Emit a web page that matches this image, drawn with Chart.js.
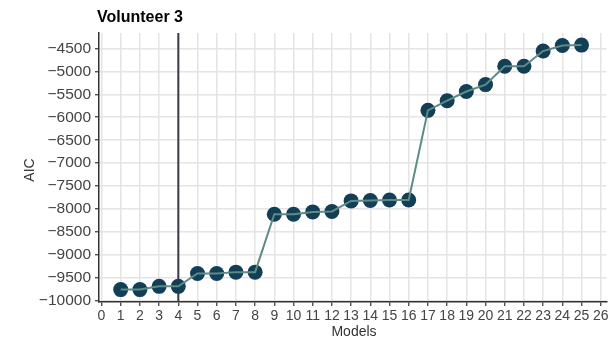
<!DOCTYPE html>
<html>
<head>
<meta charset="utf-8">
<script src="https://cdn.jsdelivr.net/npm/chart.js@4/dist/chart.umd.min.js"></script>
<style>
  html, body { margin: 0; padding: 0; background: #ffffff; }
  #wrap { width: 614px; height: 340px; }
</style>
</head>
<body>
<div id="wrap"><canvas id="c" width="614" height="340"></canvas></div>
<script>
// Model index and its AIC value
const models = [1, 2, 3, 4, 5, 6, 7, 8, 9, 10, 11, 12, 13, 14, 15, 16, 17, 18, 19, 20, 21, 22, 23, 24, 25];
const aic = [-9750, -9750, -9680, -9680, -9400, -9400, -9370, -9370, -8110, -8110, -8060, -8050,
             -7820, -7810, -7800, -7800, -5850, -5640, -5440, -5290, -4890, -4890, -4560, -4440, -4430];
const xTicks = [0,1,2,3,4,5,6,7,8,9,10,11,12,13,14,15,16,17,18,19,20,21,22,23,24,25,26];
const yTicks = [-10000,-9500,-9000,-8500,-8000,-7500,-7000,-6500,-6000,-5500,-5000,-4500];
const selectedModel = 4;
const titleText = 'Volunteer 3';
const xTitle = 'Models';
const yTitle = 'AIC';

const points = models.map((m, i) => ({ x: m, y: aic[i] }));

const textColor = '#444444';
const axisColor = '#333333';
const gridColor = '#e4e4e4';

// Vertical reference line at the selected model, plus title and axis titles
const decorations = {
  id: 'decorations',
  beforeDatasetsDraw(chart) {
    const { ctx, chartArea, scales } = chart;
    const px = scales.x.getPixelForValue(selectedModel);
    ctx.save();
    ctx.strokeStyle = '#3b3b4a';
    ctx.lineWidth = 2;
    ctx.beginPath();
    ctx.moveTo(px, chartArea.top);
    ctx.lineTo(px, chartArea.bottom);
    ctx.stroke();
    ctx.restore();
  },
  afterDraw(chart) {
    const { ctx } = chart;
    ctx.save();
    ctx.fillStyle = '#000000';
    ctx.font = 'bold 16px "Liberation Sans", Arial, sans-serif';
    ctx.textBaseline = 'alphabetic';
    ctx.textAlign = 'left';
    ctx.fillText(titleText, 97, 22);

    ctx.fillStyle = '#333333';
    ctx.font = '14px "Liberation Sans", Arial, sans-serif';
    ctx.textAlign = 'center';
    ctx.textBaseline = 'middle';
    ctx.fillText(xTitle, 354, 332);

    ctx.translate(30, 170);
    ctx.rotate(-Math.PI / 2);
    ctx.fillText(yTitle, 0, 0);
    ctx.restore();
  }
};

new Chart(document.getElementById('c'), {
  type: 'scatter',
  data: {
    datasets: [
      {
        label: 'AIC points',
        data: points,
        showLine: false,
        pointRadius: 7.5,
        pointBackgroundColor: '#133f56',
        pointBorderColor: '#133f56',
        pointBorderWidth: 0,
        order: 2
      },
      {
        label: 'AIC line',
        data: points,
        showLine: true,
        borderColor: '#5d8b85',
        borderWidth: 2,
        pointRadius: 0,
        fill: false,
        order: 1
      }
    ]
  },
  options: {
    responsive: false,
    animation: false,
    devicePixelRatio: 1,
    layout: { padding: { top: 33, left: 0, right: 0, bottom: 0 } },
    plugins: {
      legend: { display: false },
      tooltip: { enabled: false },
      title: { display: false }
    },
    scales: {
      x: {
        type: 'linear',
        min: -0.13,
        max: 26.3,
        afterBuildTicks(scale) { scale.ticks = xTicks.map(v => ({ value: v })); },
        afterFit(scale) { scale.height = 38; scale.paddingLeft = 0; scale.paddingRight = 0; },
        ticks: {
          color: textColor,
          font: { size: 14, family: '"Liberation Sans", Arial, sans-serif' },
          padding: 2,
          maxRotation: 0,
          autoSkip: false
        },
        grid: { color: gridColor, lineWidth: 1.5, tickColor: axisColor, tickLength: 4, tickWidth: 1.2 },
        border: { display: true, color: axisColor, width: 1.5 }
      },
      y: {
        type: 'linear',
        min: -10020,
        max: -4167,
        afterBuildTicks(scale) { scale.ticks = yTicks.map(v => ({ value: v })); },
        afterFit(scale) { scale.width = 99; scale.paddingTop = 0; scale.paddingBottom = 0; },
        ticks: {
          color: textColor,
          font: { size: 15.5, family: '"Liberation Sans", Arial, sans-serif' },
          padding: 4,
          callback: v => String(v).replace('-', '\u2212')
        },
        grid: { color: gridColor, lineWidth: 1.5, tickColor: axisColor, tickLength: 4, tickWidth: 1.2 },
        border: { display: true, color: axisColor, width: 1.5 }
      }
    }
  },
  plugins: [decorations]
});
</script>
</body>
</html>
